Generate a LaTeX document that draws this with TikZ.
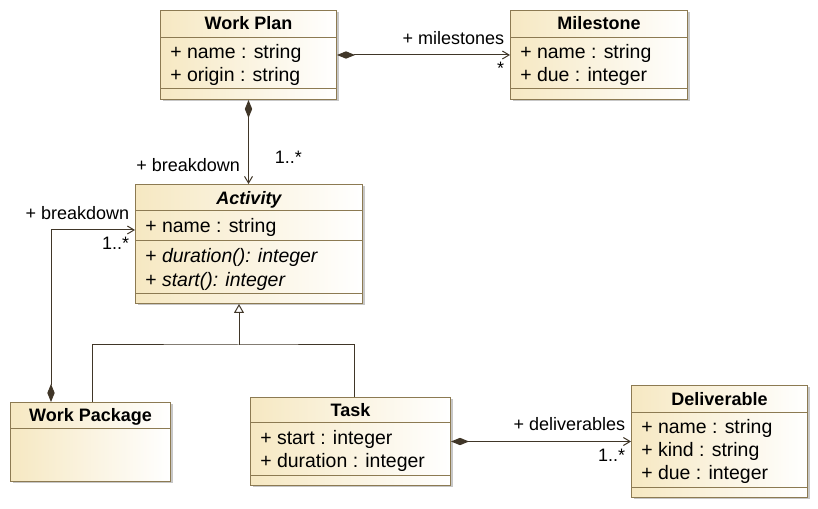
\documentclass[tikz,border=0pt]{standalone}
\usepackage{fontspec}
\setmainfont{Liberation Sans}
\usetikzlibrary{arrows.meta,calc,shadows}
\definecolor{umlfill}{RGB}{246,232,194}
\definecolor{umlline}{RGB}{140,122,82}
\definecolor{linkline}{RGB}{64,54,40}
\begin{document}
\begin{tikzpicture}[
		x=0.75pt, y=-0.75pt,
		font=\fontsize{13.5}{16}\selectfont,
		class/.style={draw=umlline, line width=0.75pt, left color=umlfill, right color=white, anchor=north west, inner sep=0pt,
			drop shadow={shadow xshift=1.5pt, shadow yshift=-1.5pt, fill=black!22, opacity=1}},
		sep/.style={draw=umlline, line width=0.75pt},
		title/.style={font=\fontsize{13.5}{16}\selectfont\bfseries, anchor=base, inner sep=0pt},
		attr/.style={font=\fontsize{14.6}{17}\selectfont, anchor=base west, inner sep=0pt},
		link/.style={draw=linkline, line width=0.75pt},
		comp/.style={link, {Diamond[length=13.5pt, width=5.5pt]}-{Straight Barb[length=5pt, width=6pt]}},
		gen/.style={link, -{Triangle[open, length=6.75pt, width=7.5pt, fill=white]}},
		role/.style={anchor=base east, inner sep=0pt, xshift=-4pt, yshift=8pt},
		mult/.style={anchor=north east, inner sep=0pt, xshift=-4pt, yshift=-5pt},
	]
		\useasboundingbox (0,0) rectangle (818,509);
		% classes
		\node (wp) [class, minimum width=132pt, minimum height=66.75pt] at (160,10) {};
		\node (ms) [class, minimum width=132.75pt, minimum height=66.75pt] at (510,10) {};
		\node (act) [class, minimum width=170.25pt, minimum height=89.25pt] at (135,184) {};
		\node (pkg) [class, minimum width=120pt, minimum height=59.25pt] at (10,402) {};
		\node (task) [class, minimum width=150pt, minimum height=66pt] at (250,397) {};
		\node (dlv) [class, minimum width=132pt, minimum height=84pt] at (631,385) {};
		\foreach \n/\d in {wp/28, wp/79, ms/28, ms/79, act/27, act/57, act/110, pkg/27, task/26, task/79, dlv/28, dlv/103}
			\draw[sep] ($(\n.north west)+(0,\d)$) -- ($(\n.north east)+(0,\d)$);
		% names
		\node (wp-name) [title] at ($(wp.north)+(0,19.5)$) {Work Plan};
		\node (ms-name) [title] at ($(ms.north)+(0,19.5)$) {Milestone};
		\node (act-name) [title] at ($(act.north)+(0,20.5)$) {\itshape Activity};
		\node (pkg-name) [title] at ($(pkg.north)+(0,19.5)$) {Work Package};
		\node (task-name) [title] at ($(task.north)+(0,19.5)$) {Task};
		\node (dlv-name) [title] at ($(dlv.north)+(0,20.5)$) {Deliverable};
		% attributes and operations
		\node (wp-a1) [attr] at ($(wp.north west)+(10,49)$) {+ name : string};
		\node (wp-a2) [attr] at ($(wp.north west)+(10,72)$) {+ origin : string};
		\node (ms-a1) [attr] at ($(ms.north west)+(10,49)$) {+ name : string};
		\node (ms-a2) [attr] at ($(ms.north west)+(10,72)$) {+ due : integer};
		\node (act-a1) [attr] at ($(act.north west)+(10,49)$) {+ name : string};
		\node (act-o1) [attr] at ($(act.north west)+(10,79)$) {+ \textit{duration(): integer}};
		\node (act-o2) [attr] at ($(act.north west)+(10,103)$) {+ \textit{start(): integer}};
		\node (task-a1) [attr] at ($(task.north west)+(10,48)$) {+ start : integer};
		\node (task-a2) [attr] at ($(task.north west)+(10,71)$) {+ duration : integer};
		\node (dlv-a1) [attr] at ($(dlv.north west)+(10,49)$) {+ name : string};
		\node (dlv-a2) [attr] at ($(dlv.north west)+(10,72)$) {+ kind : string};
		\node (dlv-a3) [attr] at ($(dlv.north west)+(10,95)$) {+ due : integer};
		% connectors
		\coordinate (pkg-own) at ($(pkg.north west)+(41,0)$);
		\coordinate (act-in) at ($(act.north west)+(0,46)$);
		\coordinate (pkg-up) at ($(pkg.north west)+(82,0)$);
		\coordinate (task-up) at ($(task.north west)+(104,0)$);
		\coordinate (act-down) at ($(act.south west)+(104,0)$);
		\coordinate (fork) at ($(act-down)+(0,41)$);
		\draw[comp] (wp.east) -- node[pos=1, role] {+ milestones} node[pos=1, mult] {*} (ms.west);
		\draw[comp] (wp.south) -- node[pos=1, role, xshift=-2pt, yshift=1pt] {+ breakdown} node[pos=0.68, anchor=west, xshift=16pt] {1..*} (wp.south |- act.north);
		\draw[comp] (pkg-own) |- node[pos=1, role] {+ breakdown} node[pos=1, mult] {1..*} (act-in);
		\draw[comp] (task.east) -- node[pos=1, role] {+ deliverables} node[pos=1, mult] {1..*} (dlv.west);
		\draw[link] (pkg-up) |- (fork) -| (task-up);
		\draw[gen] (fork) -- (act-down);
	\end{tikzpicture}
\end{document}
